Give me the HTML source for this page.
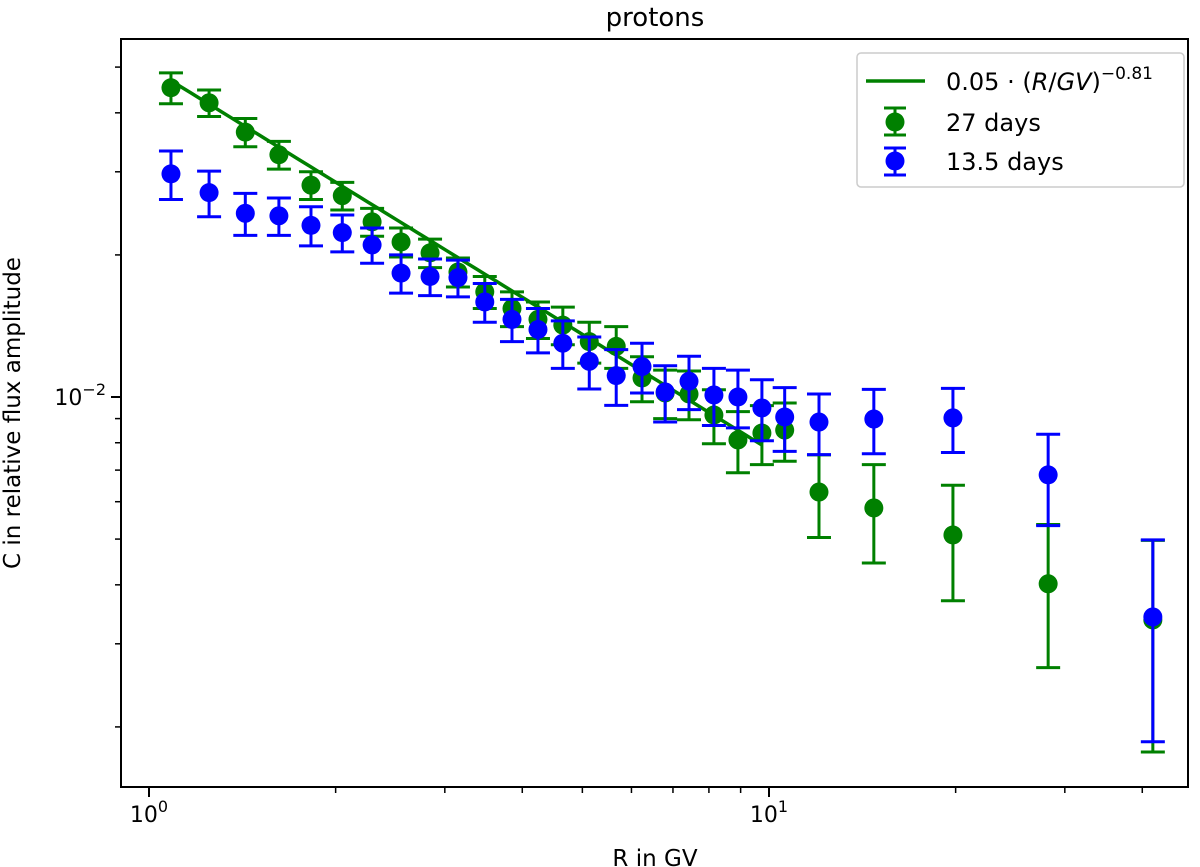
<!DOCTYPE html>
<html><head><meta charset="utf-8"><style>
body{margin:0;background:#fff}
svg{display:block;font-family:"DejaVu Sans","Liberation Sans",sans-serif}
</style></head><body>
<svg id="chart" width="1200" height="867" viewBox="0 0 1200 867">
<rect x="0" y="0" width="1200" height="867" fill="#fff"/>
<text x="655" y="26" font-size="26" text-anchor="middle">protons</text>
<g id="ticks"></g>
<g id="marks"></g>
<rect x="121" y="39" width="1067" height="748" fill="none" stroke="#000" stroke-width="2"/>
<text x="655" y="866" font-size="23" text-anchor="middle">R in GV</text>
<text transform="translate(20,413) rotate(-90)" font-size="23" text-anchor="middle">C in relative flux amplitude</text>
<g>
<rect x="857" y="53" width="327" height="134" rx="4" fill="#fff" stroke="#ccc" stroke-width="1.5"/>
<line x1="866" y1="81" x2="925" y2="81" stroke="#008000" stroke-width="3.5"/>
<text x="946" y="90" font-size="24">0.05 · (<tspan font-style="italic">R</tspan>/<tspan font-style="italic">GV</tspan>)<tspan dy="-11" font-size="17">−0.81</tspan></text>
<g stroke="#008000" stroke-width="3"><line x1="895" y1="108" x2="895" y2="135"/><line x1="884" y1="108" x2="906" y2="108"/><line x1="884" y1="135" x2="906" y2="135"/><circle cx="895" cy="122" r="9.5" fill="#008000" stroke="none"/></g>
<text x="946" y="131" font-size="24">27 days</text>
<g stroke="#0000ff" stroke-width="3"><line x1="895" y1="148" x2="895" y2="175"/><line x1="884" y1="148" x2="906" y2="148"/><line x1="884" y1="175" x2="906" y2="175"/><circle cx="895" cy="161" r="9.5" fill="#0000ff" stroke="none"/></g>
<text x="946" y="170" font-size="24">13.5 days</text>
</g>
</svg>
<script>
const rigidity=[1.085,1.25,1.43,1.62,1.825,2.05,2.29,2.55,2.84,3.15,3.48,3.85,4.24,4.65,5.13,5.67,6.24,6.80,7.43,8.15,8.91,9.74,10.6,12.04,14.76,19.8,28.2,41.6];
const green27=[0.0452,0.0420,0.0364,0.0326,0.0281,0.0267,0.0235,0.0213,0.0202,0.0184,0.0167,0.0154,0.0146,0.0142,0.0131,0.0128,0.01097,0.0102,0.01015,0.00916,0.00811,0.00839,0.00851,0.00629,0.00582,0.00510,0.00402,0.00337];
const green27Err=[0.0034,0.0027,0.0025,0.0022,0.0019,0.0018,0.0016,0.0015,0.0014,0.0013,0.0013,0.0013,0.0013,0.0013,0.0013,0.0013,0.0012,0.0012,0.0012,0.0012,0.0012,0.0012,0.0012,0.00125,0.00137,0.0014,0.00135,0.0016];
const blue135=[0.0297,0.0271,0.0245,0.0242,0.0231,0.0223,0.0210,0.0183,0.0180,0.0179,0.0159,0.0146,0.0139,0.0130,0.0119,0.0111,0.0116,0.01025,0.0108,0.0101,0.0100,0.00948,0.00907,0.00885,0.00898,0.00903,0.00684,0.00342];
const blue135Err=[0.0035,0.0030,0.0025,0.0022,0.0022,0.0020,0.0018,0.0017,0.0016,0.0016,0.0015,0.0015,0.0015,0.0015,0.0015,0.0015,0.0014,0.0014,0.0014,0.0014,0.0014,0.0014,0.0014,0.0013,0.0014,0.0014,0.0015,0.00156];
const fitAmp=0.05, fitExp=-0.81, fitMin=1.085, fitMax=9.74;
const xTickVals=[1,10];
const xTickLabels=["0","1"];
const yTickVals=[0.01];
const yTickLabels=["−2"];

const NS="http://www.w3.org/2000/svg";
const X=v=>149+620*Math.log10(v);
const Y=v=>397-472*Math.log10(v/0.01);
const ticks=document.getElementById('ticks'), marks=document.getElementById('marks');
function mk(tag,at,parent){const e=document.createElementNS(NS,tag);for(const k in at)e.setAttribute(k,at[k]);parent.appendChild(e);return e;}

for(let d=0;d<2;d++)for(let m=1;m<10;m++){const v=m*Math.pow(10,d);const x=X(v);if(x<121||x>1188)continue;
 const t=mk('line',{x1:x,x2:x,y1:787,y2:787+(m===1?10:6),stroke:'#000','stroke-width':m===1?2:1.5},ticks);
 
 }
xTickVals.forEach((v,i)=>{const t=mk('text',{x:X(v),y:822,'font-size':22,'text-anchor':'middle'},ticks);
 
 
 t.innerHTML='10<tspan dy="-10" font-size="16">'+xTickLabels[i]+'</tspan>';});
for(let d=-3;d<=-2;d++)for(let m=1;m<10;m++){const v=m*Math.pow(10,d);const y=Y(v);if(y<39||y>787)continue;
 const t=mk('line',{x1:121-(m===1?10:6),x2:121,y1:y,y2:y,stroke:'#000','stroke-width':m===1?2:1.5},ticks);
 
 }
yTickVals.forEach((v,i)=>{const t=mk('text',{x:106,y:Y(v)+8,'font-size':22,'text-anchor':'end'},ticks);
 
 
 t.innerHTML='10<tspan dy="-10" font-size="16">'+yTickLabels[i]+'</tspan>';});

function series(vals,errs,color,name){
 const g=mk('g',{},marks);
 
 
 rigidity.forEach((r,i)=>{const x=X(r),y=Y(vals[i]),yt=Y(vals[i]+errs[i]),yb=Y(Math.max(vals[i]-errs[i],1e-4));
  const eb=mk('g',{stroke:color,'stroke-width':3},g);
  
  
  mk('line',{x1:x,x2:x,y1:yt,y2:yb},eb);
  mk('line',{x1:x-12,x2:x+12,y1:yt,y2:yt},eb);
  mk('line',{x1:x-12,x2:x+12,y1:yb,y2:yb},eb);
  const c=mk('circle',{cx:x,cy:y,r:9.5,fill:color},g);
  
  });
}
series(green27,green27Err,'#008000','27-days');
let pts=[];for(let i=0;i<=60;i++){const r=fitMin*Math.pow(fitMax/fitMin,i/60);pts.push(X(r)+','+Y(fitAmp*Math.pow(r,fitExp)));}
const fl=mk('polyline',{points:pts.join(' '),fill:'none',stroke:'#008000','stroke-width':3.5},marks);


series(blue135,blue135Err,'#0000ff','13-5-days');
</script>
</body></html>
